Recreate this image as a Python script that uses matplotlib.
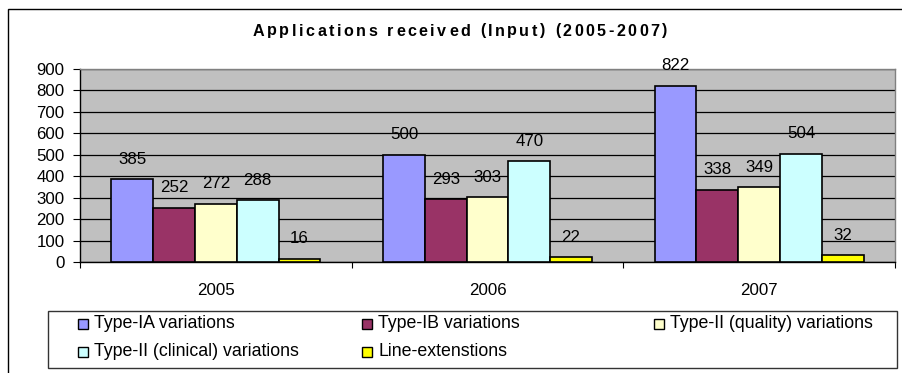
import matplotlib
matplotlib.use("Agg")
import matplotlib.pyplot as plt
from matplotlib.patches import Rectangle
from matplotlib.font_manager import FontProperties
import numpy as np

plt.rcParams['font.family'] = ['Liberation Sans', 'DejaVu Sans']

years = ["2005", "2006", "2007"]
series_names = ["Type-IA variations", "Type-IB variations",
                "Type-II (quality) variations", "Type-II (clinical) variations",
                "Line-extenstions"]
type_ia = [385, 500, 822]
type_ib = [252, 293, 338]
type_ii_quality = [272, 303, 349]
type_ii_clinical = [288, 470, 504]
line_extensions = [16, 22, 32]
series_values = [type_ia, type_ib, type_ii_quality, type_ii_clinical, line_extensions]
colors = ["#9999FF", "#993366", "#FFFFCC", "#CCFFFF", "#FFFF00"]
y_ticks = list(range(0, 1000, 100))

FS = 12.2
W, H = 903, 373
fig = plt.figure(figsize=(W / 100, H / 100), dpi=100)

# outer chart frame
fig.patches.append(Rectangle((8 / W, -0.05), 1.2, 1 - 9 / H + 0.05,
                             transform=fig.transFigure, fill=False,
                             edgecolor="black", linewidth=1.0))

ax = fig.add_axes([80 / W, 1 - 262 / H, 815 / W, 193 / H])
ax.set_facecolor("#C0C0C0")

n = len(series_values)
bw = 1 / (n + 1.5)
x = np.arange(len(years))
for i, (vals, col) in enumerate(zip(series_values, colors)):
    pos = x + (i - (n - 1) / 2) * bw
    ax.bar(pos, vals, width=bw, color=col, edgecolor="black",
           linewidth=1.2, zorder=3)
    for px, v in zip(pos, vals):
        ax.annotate(str(v), (px, v), xytext=(0, 14.4), textcoords="offset points",
                    ha="center", va="center", fontsize=FS, zorder=4)

ax.set_xlim(-0.5, len(years) - 0.5)
ax.set_ylim(0, 900)
ax.set_yticks(y_ticks)
ax.set_yticklabels([str(t) for t in y_ticks], fontsize=FS)
ax.yaxis.grid(True, color="black", linewidth=0.9, zorder=1)
ax.set_axisbelow(True)

ax.set_xticks(np.arange(len(years) + 1) - 0.5)
ax.set_xticklabels([])
ax.set_xticks(x, minor=True)
ax.set_xticklabels(years, minor=True, fontsize=FS)
ax.tick_params(axis="x", which="major", direction="out", length=4.5, width=0.8)
ax.tick_params(axis="x", which="minor", length=0, pad=15)
ax.tick_params(axis="y", direction="out", length=5, width=0.8, pad=6)

for s in ("top", "right"):
    ax.spines[s].set_color("#808080")
    ax.spines[s].set_linewidth(1.0)
for s in ("left", "bottom"):
    ax.spines[s].set_color("black")
    ax.spines[s].set_linewidth(1.0)

# title with widened letter spacing
title = "Applications received (Input) (2005-2007)"
renderer = fig.canvas.get_renderer()
tprop = FontProperties(family="Liberation Sans", weight="bold", size=11.6)
def text_w(s):
    if not s:
        return 0.0
    w, _, _ = renderer.get_text_width_height_descent(s.replace(" ", "\u00a0"), tprop, ismath=False)
    return w
target_w = 415.0
spacing = (target_w - text_w(title)) / (len(title) - 1)
x0 = 460 - target_w / 2
for i, ch in enumerate(title):
    if ch == " ":
        continue
    cx = x0 + text_w(title[:i]) + i * spacing
    fig.text(cx / W, 1 - 31 / H, ch, fontproperties=tprop, ha="left", va="center")

# legend box
lx0, ly0, lx1, ly1 = 48, 311, 897, 368
fig.patches.append(Rectangle((lx0 / W, 1 - ly1 / H), (lx1 - lx0) / W, (ly1 - ly0) / H,
                             transform=fig.transFigure, facecolor="white",
                             edgecolor="#333333", linewidth=1.0))
cols_x = [78, 362, 654]
rows_y = [324, 352]
for k, (name, col) in enumerate(zip(series_names, colors)):
    r, c = divmod(k, 3)
    mx, my = cols_x[c], rows_y[r]
    fig.patches.append(Rectangle((mx / W, 1 - (my + 5) / H), 10 / W, 10 / H,
                                 transform=fig.transFigure, facecolor=col,
                                 edgecolor="black", linewidth=1.0))
    fig.text((mx + 16) / W, 1 - my / H, name, fontsize=FS + 0.6, ha="left", va="center")

fig.savefig("out.png", dpi=100)
